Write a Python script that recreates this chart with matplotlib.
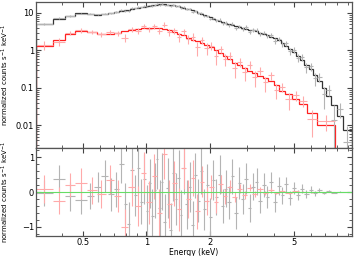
import matplotlib
matplotlib.use("Agg")
import matplotlib.pyplot as plt
from matplotlib.ticker import FixedLocator, NullFormatter, FuncFormatter
import numpy as np

# black spectrum: bin edges (keV), model, residual (data - model), error
black_edges = [0.30, 0.36, 0.41, 0.46, 0.52, 0.565, 0.61, 0.66, 0.70, 0.74, 0.78, 0.81,
               0.84, 0.87, 0.90, 0.93, 0.96, 0.99, 1.02, 1.05, 1.08, 1.11, 1.14, 1.17,
               1.20, 1.24, 1.28, 1.32, 1.36, 1.40, 1.44, 1.48, 1.53, 1.58, 1.63, 1.68,
               1.73, 1.79, 1.85, 1.91, 1.97, 2.04, 2.11, 2.18, 2.26, 2.34, 2.42, 2.51,
               2.60, 2.70, 2.80, 2.91, 3.02, 3.14, 3.26, 3.39, 3.53, 3.67, 3.82, 3.98,
               4.15, 4.32, 4.50, 4.70, 4.90, 5.12, 5.35, 5.60, 5.86, 6.14, 6.44, 6.76,
               7.10, 7.50, 8.00, 8.50, 9.40]
black_model = [5.1, 6.9, 8.5, 9.8, 9.6, 9.0, 9.1, 9.8,
               10.5, 11.2, 11.8, 12.3, 12.8, 13.3, 13.8, 14.3, 14.8,
               15.3, 15.7, 16.1, 16.4, 16.7, 16.9, 16.9,
               16.8, 16.6, 16.3, 15.9, 15.4, 14.9, 14.4,
               13.8, 13.1, 12.4, 11.7, 11.0,
               10.2, 9.5, 8.8, 8.2,
               7.6, 7.0, 6.5,
               6.1, 5.7, 5.3,
               5.0, 4.7, 4.45, 4.2,
               4.0, 3.8, 3.6, 3.4, 3.2, 3.0, 2.8, 2.6, 2.35,
               2.1, 1.85, 1.6, 1.35, 1.12,
               0.92, 0.72, 0.55, 0.42, 0.31, 0.22, 0.15, 0.098, 0.06,
               0.034, 0.018, 0.0075]
black_res = [-0.03, 0.37, -0.12, -0.23, -0.12, 0.14, 0.46, -0.07,
             0.08, 0.80, -0.33, -0.92, 0.62, -0.10, 0.68, -0.28, 0.38,
             -0.55, 0.25, -0.70, 0.05, 0.95, -0.45, 0.30,
             -0.85, 0.12, -1.10, 0.55, -0.20, 0.40, -0.65,
             0.70, -0.35, 0.15, -0.95, 0.48,
             -0.25, 0.60, -0.50, 0.20,
             -0.72, 0.35, -0.15,
             0.50, -0.40, 0.10,
             -0.30, 0.45, -0.60, 0.25,
             -0.20, 0.38, -0.45, 0.15, 0.30, -0.25, 0.20, -0.15, 0.28,
             -0.30, 0.18, -0.10, 0.22, -0.18,
             0.12, -0.08, 0.10, -0.06, 0.07, -0.04, 0.05, -0.03, 0.03,
             -0.02, 0.01, -0.004]
black_err = [0.38, 0.40, 0.42, 0.40, 0.38, 0.42, 0.45, 0.48,
             0.50, 0.55, 0.60, 0.62, 0.65, 0.60, 0.70, 0.65, 0.72,
             0.75, 0.70, 0.80, 0.78, 0.85, 0.80, 0.82,
             0.80, 0.85, 0.78, 0.82, 0.75, 0.80, 0.72,
             0.75, 0.70, 0.72, 0.68, 0.65,
             0.62, 0.65, 0.58, 0.60,
             0.55, 0.58, 0.52,
             0.55, 0.50, 0.52,
             0.48, 0.50, 0.45, 0.46,
             0.42, 0.44, 0.40, 0.38, 0.40, 0.35, 0.33, 0.32, 0.30,
             0.28, 0.26, 0.24, 0.22, 0.20,
             0.17, 0.15, 0.13, 0.11, 0.09, 0.07, 0.055, 0.04, 0.03,
             0.02, 0.012, 0.006]

# red spectrum
red_edges = [0.30, 0.36, 0.41, 0.46, 0.52, 0.58, 0.64, 0.70, 0.76, 0.82, 0.88, 0.94,
             1.00, 1.06, 1.12, 1.18, 1.25, 1.32, 1.39, 1.46, 1.54, 1.62, 1.70, 1.79,
             1.88, 1.98, 2.08, 2.19, 2.30, 2.42, 2.55, 2.69, 2.84, 3.00, 3.17, 3.35,
             3.55, 3.77, 4.00, 4.25, 4.55, 4.90, 5.30, 5.75, 6.40, 7.80]
red_model = [1.35, 1.95, 2.75, 3.2, 3.1, 2.8, 2.75, 3.0,
             3.2, 3.5, 3.7, 3.9, 4.0, 4.0, 3.95, 3.8,
             3.5, 3.15, 2.8, 2.5, 2.2, 1.95, 1.75, 1.6,
             1.42, 1.2, 1.0, 0.87, 0.72, 0.58, 0.47, 0.40,
             0.34, 0.29, 0.25, 0.21, 0.18, 0.155, 0.12, 0.084,
             0.07, 0.05, 0.038, 0.022, 0.01]
red_res = [0.08, -0.25, 0.20, 0.25, 0.05, -0.05, 0.35, -0.12,
           -1.00, 0.15, -0.40, 0.55, -0.30, 0.45, -0.60, 1.08,
           -0.35, 0.25, -0.50, 0.70, -0.20, 0.40, -0.55, 0.30,
           -0.25, 0.15, -0.30, 0.22, -0.12, 0.15, -0.14, 0.09,
           -0.08, 0.12, -0.06, 0.08, -0.04, 0.06, -0.03, 0.025,
           -0.02, 0.015, 0.008, -0.007, 0.003]
red_err = [0.40, 0.38, 0.35, 0.45, 0.38, 0.40, 0.42, 0.45,
           0.50, 0.55, 0.58, 0.60, 0.62, 0.65, 0.68, 0.70,
           0.68, 0.65, 0.62, 0.60, 0.55, 0.52, 0.50, 0.45,
           0.40, 0.35, 0.30, 0.26, 0.22, 0.18, 0.15, 0.13,
           0.11, 0.10, 0.085, 0.07, 0.06, 0.05, 0.04, 0.03,
           0.025, 0.02, 0.015, 0.01, 0.006]


def centers_widths(edges):
    e = np.array(edges)
    return np.sqrt(e[:-1] * e[1:]), e[:-1], e[1:]


fig = plt.figure(figsize=(3.54, 2.56), dpi=100)
ax1 = fig.add_axes([0.102, 0.422, 0.892, 0.570])
ax2 = fig.add_axes([0.102, 0.078, 0.892, 0.344], sharex=ax1)

specs = [
    (black_edges, black_model, black_res, black_err, '#b4b4b4', '#333333'),
    (red_edges, red_model, red_res, red_err, '#ffaaaa', '#ff2020'),
]
for edges, model, res, err, dcol, mcol in specs:
    c, lo, hi = centers_widths(edges)
    model = np.array(model)
    res = np.array(res)
    err = np.array(err)
    data = model + res
    xerr = [c - lo, hi - c]
    ax1.errorbar(c, data, xerr=xerr, yerr=err, fmt='none', ecolor=dcol, elinewidth=0.8)
    ax1.stairs(model, edges, color=mcol, linewidth=0.9)
    ax2.errorbar(c, res, xerr=xerr, yerr=err, fmt='none', ecolor=dcol, elinewidth=0.8)

ax2.axhline(0, color='#66dd66', linewidth=0.8)

ax1.set_xscale('log')
ax1.set_yscale('log')
ax1.set_xlim(0.30, 9.4)
ax1.set_ylim(0.0025, 19.5)
ax2.set_ylim(-1.26, 1.26)

major = [0.5, 1, 2, 5]
minor = [0.3, 0.4, 0.6, 0.7, 0.8, 0.9, 3, 4, 6, 7, 8, 9]
fmt = FuncFormatter(lambda v, p: f"{v:g}")
for ax in (ax1, ax2):
    ax.xaxis.set_major_locator(FixedLocator(major))
    ax.xaxis.set_minor_locator(FixedLocator(minor))
    ax.xaxis.set_minor_formatter(NullFormatter())
    ax.tick_params(which='both', direction='in', top=True, right=True,
                   labelsize=6, color='#444444', pad=1.5)
    ax.tick_params(which='major', length=3.5)
    ax.tick_params(which='minor', length=2)
    for s in ax.spines.values():
        s.set_color('#555555')
        s.set_linewidth(0.9)

ax1.yaxis.set_major_formatter(fmt)
ax1.tick_params(labelbottom=False)
ax2.xaxis.set_major_formatter(fmt)
ax2.yaxis.set_major_locator(FixedLocator([-1, 0, 1]))
ax2.yaxis.set_minor_locator(FixedLocator([-1.2, -0.8, -0.6, -0.4, -0.2, 0.2, 0.4, 0.6, 0.8, 1.2]))

ylab = r'normalized counts s$^{-1}$ keV$^{-1}$'
ax1.set_ylabel(ylab, fontsize=5, labelpad=3)
ax2.set_ylabel(ylab, fontsize=5, labelpad=3)
ax2.set_xlabel('Energy (keV)', fontsize=5.5)
ax1.yaxis.set_label_coords(-0.078, 0.5)
ax2.yaxis.set_label_coords(-0.078, 0.5)
ax2.xaxis.set_label_coords(0.5, -0.135)

fig.savefig('out.png', dpi=100)
